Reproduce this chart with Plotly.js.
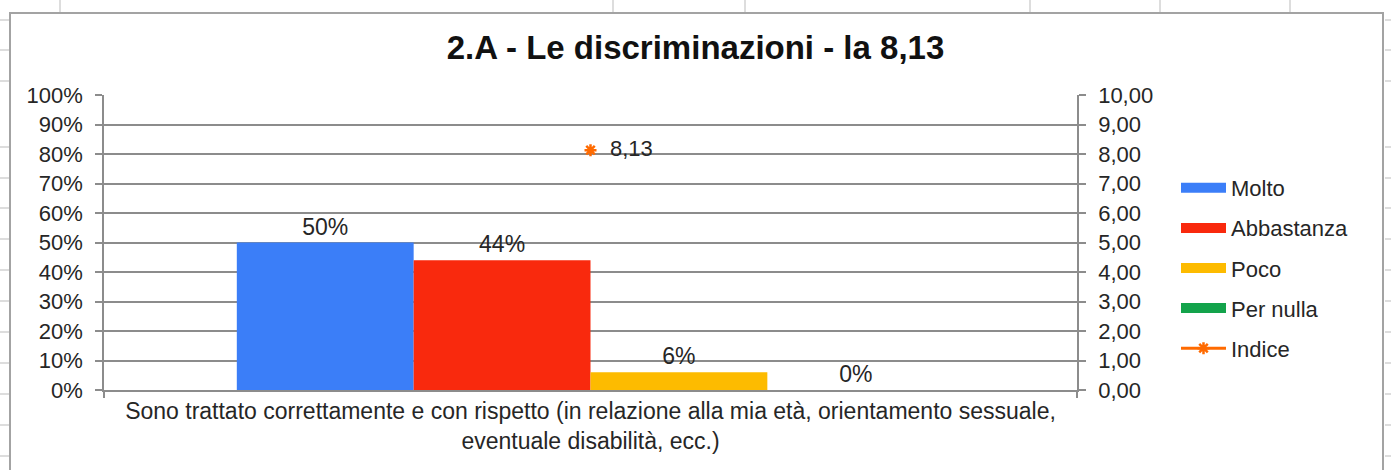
<!DOCTYPE html>
<html>
<head>
<meta charset="utf-8">
<script src="https://cdn.plot.ly/plotly-3.0.1.min.js"></script>
<style>html,body{margin:0;padding:0;background:#fff;}#chart{width:1391px;height:470px;}</style>
</head>
<body>
<div id="chart"></div>
<script>
// ---- data ----
const categories = ['Sono trattato correttamente e con rispetto (in relazione alla mia età, orientamento sessuale,<br>eventuale disabilità, ecc.)'];
const seriesNames = ['Molto', 'Abbastanza', 'Poco', 'Per nulla'];
const molto = [0.50];
const abbastanza = [0.44];
const poco = [0.06];
const perNulla = [0.00];
const indiceName = 'Indice';
const indice = [8.13];
const indiceLabels = ['8,13'];
const titleText = '2.A - Le discriminazioni - la 8,13';

const seriesValues = [molto, abbastanza, poco, perNulla];
const colors = ['#3b7ef8', '#f9290d', '#fdbb00', '#13a34b'];
const orange = '#ff6a00';
const FONT = 'Liberation Sans, Arial, Helvetica, sans-serif';
const TXT = '#262626';

// ---- layout geometry (pixels) ----
const W = 1391, H = 470;
const M = {l: 104, r: 1391 - 1077, t: 95, b: 470 - 390};
const PW = W - M.l - M.r, PH = H - M.t - M.b;
const px = x => (x - M.l) / PW;
const py = y => (H - M.b - y) / PH;

const traces = [];
seriesValues.forEach((vals, i) => {
  traces.push({
    type: 'bar', name: seriesNames[i], x: categories, y: vals,
    marker: {color: colors[i]},
    texttemplate: '%{y:.0%}', textposition: 'outside',
    textfont: {family: FONT, size: 23, color: TXT},
    cliponaxis: false, showlegend: false, legendgroup: 'g' + i,
    hovertemplate: seriesNames[i] + ': %{y:.0%}<extra></extra>'
  });
});
// legend entries (Excel-style swatches)
seriesValues.forEach((vals, i) => {
  traces.push({
    type: 'scatter', mode: 'lines', name: seriesNames[i], x: [null], y: [null],
    line: {color: colors[i], width: 13}, legendgroup: 'g' + i, showlegend: true,
    hoverinfo: 'skip'
  });
});
traces.push({
  type: 'scatter', mode: 'lines+markers+text', name: indiceName,
  x: categories, y: indice, yaxis: 'y2',
  text: indiceLabels, texttemplate: '\u00a0\u00a0%{text}', textposition: 'middle right',
  textfont: {family: FONT, size: 22, color: TXT},
  line: {color: orange, width: 3},
  marker: {symbol: 'asterisk-open', size: 10, line: {color: orange, width: 2.5}, color: orange},
  legendgroup: 'g4', cliponaxis: false,
  hovertemplate: 'Indice: %{y:.2f}<extra></extra>'
});

const lineCol = '#8c8c8c';
const shapes = [];
// chart frame
shapes.push({type: 'rect', xref: 'paper', yref: 'paper', x0: px(10), x1: px(1383), y0: py(490), y1: py(13),
  line: {color: '#a3a3a3', width: 2}, fillcolor: 'rgba(0,0,0,0)', layer: 'below'});
// spreadsheet grid stubs outside the chart object
[60, 613, 745, 1030, 1160, 1290].forEach(x => shapes.push({type: 'line', xref: 'paper', yref: 'paper',
  x0: px(x), x1: px(x), y0: py(0), y1: py(12), line: {color: '#d2d2d2', width: 1.5}}));
[20, 50, 81, 147, 178, 208, 239, 270, 301, 332, 363, 394, 425, 456].forEach(y => {
  shapes.push({type: 'line', xref: 'paper', yref: 'paper', x0: px(0), x1: px(9), y0: py(y), y1: py(y), line: {color: '#d2d2d2', width: 1.5}});
  shapes.push({type: 'line', xref: 'paper', yref: 'paper', x0: px(1385), x1: px(1391), y0: py(y), y1: py(y), line: {color: '#d2d2d2', width: 1.5}});
});

const layout = {
  width: W, height: H, margin: M,
  paper_bgcolor: '#fff', plot_bgcolor: '#fff',
  font: {family: FONT, size: 22, color: TXT},
  separators: ',.',
  title: {text: titleText, font: {family: FONT, size: 33, color: '#111', weight: 'bold'},
    x: 0.5, xref: 'container', y: 1 - 47 / H, yref: 'container', yanchor: 'middle'},
  barmode: 'group', bargap: 0.273, bargroupgap: 0,
  xaxis: {
    type: 'category', showgrid: false, showline: true, linecolor: lineCol, linewidth: 1.5,
    ticks: 'outside', tickson: 'boundaries', ticklen: 6, tickcolor: lineCol, tickwidth: 1.5,
    tickfont: {family: FONT, size: 23, color: TXT}, fixedrange: true
  },
  yaxis: {
    range: [0, 1], tickvals: [0, .1, .2, .3, .4, .5, .6, .7, .8, .9, 1], tickformat: '.0%',
    showgrid: true, gridcolor: lineCol, gridwidth: 1.5, zeroline: false,
    showline: true, linecolor: lineCol, linewidth: 1.5,
    ticks: 'outside', ticklen: 7, tickcolor: lineCol, tickwidth: 1.5,
    ticklabelstandoff: 8, tickfont: {family: FONT, size: 22, color: TXT}, fixedrange: true
  },
  yaxis2: {
    range: [0, 10], tickvals: [0, 1, 2, 3, 4, 5, 6, 7, 8, 9, 10], tickformat: '.2f',
    overlaying: 'y', side: 'right', showgrid: false, zeroline: false,
    showline: true, linecolor: lineCol, linewidth: 1.5,
    ticks: 'outside', ticklen: 7, tickcolor: lineCol, tickwidth: 1.5,
    ticklabelstandoff: 8, tickfont: {family: FONT, size: 22, color: TXT}, fixedrange: true
  },
  legend: {
    x: px(1176), y: py(167), xanchor: 'left', yanchor: 'top',
    font: {family: FONT, size: 22, color: TXT},
    tracegroupgap: 8.5, itemwidth: 45, bgcolor: 'rgba(0,0,0,0)', traceorder: 'grouped'
  },
  shapes: shapes,
  showlegend: true
};

Plotly.newPlot('chart', traces, layout, {displayModeBar: false, responsive: false});
</script>
</body>
</html>
